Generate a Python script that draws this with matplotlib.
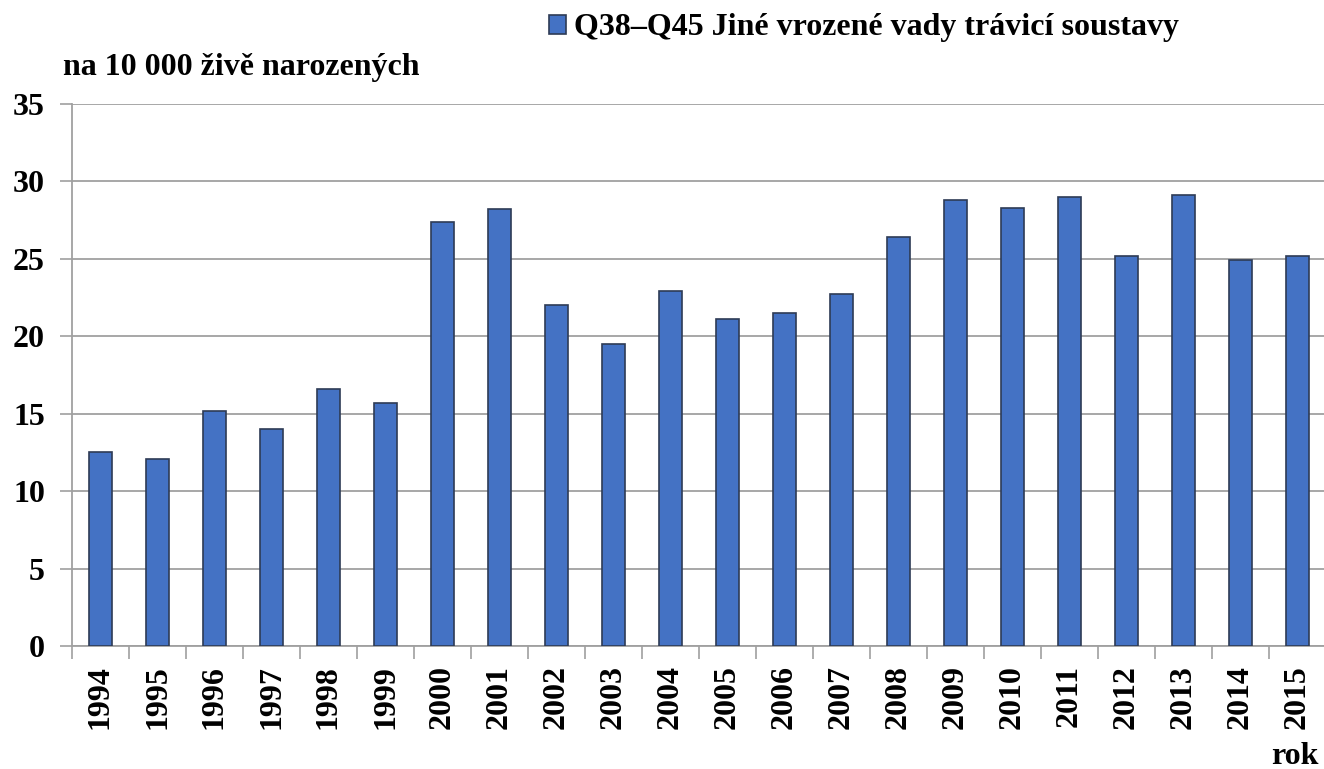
import matplotlib
matplotlib.use("Agg")
import matplotlib.pyplot as plt
from matplotlib.patches import Patch

# data
years = [str(y) for y in range(1994, 2016)]
values = [12.5, 12.1, 15.2, 14.0, 16.6, 15.7, 27.4, 28.2, 22.0, 19.5, 22.9,
          21.1, 21.5, 22.7, 26.4, 28.8, 28.3, 29.0, 25.2, 29.1, 24.9, 25.2]
series_name = "Q38\u2013Q45 Jiné vrozené vady trávicí soustavy"
y_label = "na 10 000 živě narozených"
x_label = "rok"
y_ticks = [0, 5, 10, 15, 20, 25, 30, 35]

plt.rcParams['font.family'] = ['Liberation Serif', 'DejaVu Serif']
plt.rcParams['font.weight'] = 'bold'

bar_color = '#4472C4'
edge_color = '#2E3B55'
grid_color = '#A0A0A0'
fs = 23

fig = plt.figure(figsize=(13.24, 7.69), dpi=100)
ax = fig.add_axes([72 / 1324, 123 / 769, 1254 / 1324, 542 / 769])

x = list(range(len(years)))
ax.bar(x, values, width=0.41, color=bar_color, edgecolor=edge_color,
       linewidth=1.2, zorder=3)

ax.set_xlim(-0.5, len(years) - 0.5)
ax.set_ylim(0, 35)
ax.set_yticks(y_ticks)
ax.set_yticklabels([str(t) for t in y_ticks], fontsize=fs, fontweight='bold')
ax.yaxis.grid(True, color=grid_color, linewidth=1.3, zorder=0)
ax.tick_params(axis='y', length=9, width=1.2, color=grid_color, pad=10.5)

# category labels centred, tick marks at boundaries
ax.set_xticks(x)
ax.set_xticklabels(years, rotation=90, fontsize=fs, fontweight='bold')
ax.tick_params(axis='x', length=0, pad=14)
ax.set_xticks([i - 0.5 for i in range(len(years) + 1)], minor=True)
ax.tick_params(axis='x', which='minor', length=9, width=1.2, color=grid_color)

for side in ['top', 'right']:
    ax.spines[side].set_visible(False)
for side in ['left', 'bottom']:
    ax.spines[side].set_color(grid_color)
    ax.spines[side].set_linewidth(1.3)

fig.text(63 / 1324, 1 - 68 / 769, y_label, fontsize=fs, fontweight='bold',
         va='center', ha='left')
fig.text(1319 / 1324, 1 - 757 / 769, x_label, fontsize=fs, fontweight='bold',
         va='center', ha='right')

handle = Patch(facecolor=bar_color, edgecolor=edge_color, linewidth=1.2)
fig.legend([handle], [series_name], loc='center left',
           bbox_to_anchor=(520 / 1324, 1 - 28 / 769), frameon=False,
           handlelength=0.55, handleheight=0.55, handletextpad=0.25,
           prop={'size': fs, 'weight': 'bold'})

fig.savefig("out.png", dpi=100)
